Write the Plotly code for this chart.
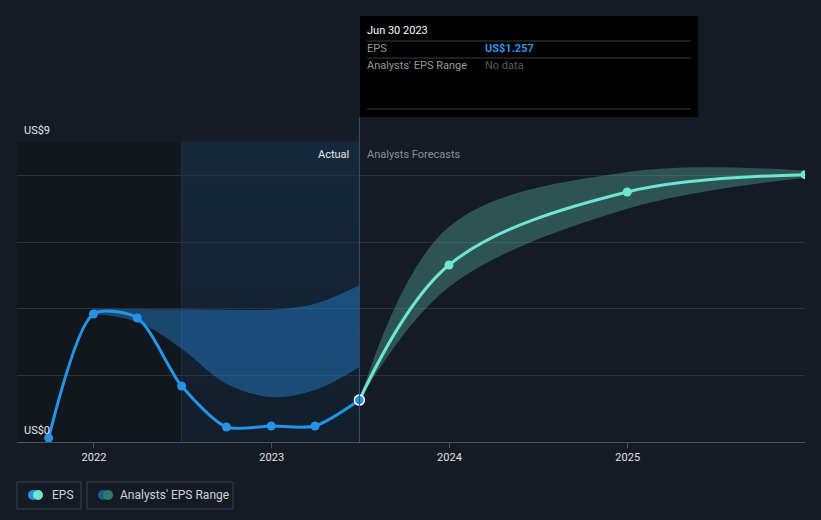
import plotly.graph_objects as go

# ---- data ----
eps_dates = ["2021-09-30", "2021-12-31", "2022-03-31", "2022-06-30",
             "2022-09-30", "2022-12-31", "2023-03-31", "2023-06-30"]
eps_values = [0.12, 3.84, 3.72, 1.68, 0.45, 0.48, 0.48, 1.257]

hist_range_dates = ["2021-12-31", "2022-03-31", "2022-06-30", "2022-09-30",
                    "2022-12-31", "2023-03-31", "2023-06-30"]
hist_range_low = [3.84, 3.6, 2.8, 1.75, 1.35, 1.56, 2.25]
hist_range_high = [4.0, 3.99, 3.98, 3.97, 3.97, 4.15, 4.7]

fc_dates = ["2023-06-30", "2023-12-31", "2024-12-31", "2025-12-31"]
fc_values = [1.257, 5.31, 7.5, 8.02]
fc_low = [1.257, 4.65, 7.0, 7.93]
fc_high = [1.257, 6.46, 8.1, 8.14]

x_ticks = ["2022-01-01", "2023-01-01", "2024-01-01", "2025-01-01"]
x_tick_labels = ["2022", "2023", "2024", "2025"]
y_grid = [0, 2, 4, 6, 8, 9]

# ---- layout helpers (pixel -> paper) ----
W, H = 821, 520
L, R, T, B = 17, 16, 142, 78
PW, PH = W - L - R, H - T - B


def px(x):
    return (x - L) / PW


def py(y):
    return (H - B - y) / PH


BG = "#151b24"
EPS_BLUE = "#2394e8"
FC_TEAL = "#6ee6d2"

fig = go.Figure()

# historic analyst range band
fig.add_trace(go.Scatter(x=hist_range_dates, y=hist_range_high, mode="lines",
                         line=dict(width=0, shape="spline", smoothing=1),
                         hoverinfo="skip", showlegend=False))
fig.add_trace(go.Scatter(x=hist_range_dates, y=hist_range_low, mode="lines",
                         line=dict(width=0, shape="spline", smoothing=1),
                         fill="tonexty", fillcolor="rgba(36,130,210,0.45)",
                         hoverinfo="skip", showlegend=False))

# forecast range band
fig.add_trace(go.Scatter(x=fc_dates, y=fc_high, mode="lines",
                         line=dict(width=0, shape="spline", smoothing=1),
                         hoverinfo="skip", showlegend=False))
fig.add_trace(go.Scatter(x=fc_dates, y=fc_low, mode="lines",
                         line=dict(width=0, shape="spline", smoothing=1),
                         fill="tonexty", fillcolor="rgba(95,200,180,0.33)",
                         hoverinfo="skip", showlegend=False))

# EPS actual
fig.add_trace(go.Scatter(x=eps_dates, y=eps_values, mode="lines+markers",
                         line=dict(color=EPS_BLUE, width=3, shape="spline", smoothing=0.75),
                         marker=dict(size=9, color=EPS_BLUE),
                         hoverinfo="skip", showlegend=False))

# forecast line
fig.add_trace(go.Scatter(x=fc_dates, y=fc_values, mode="lines+markers",
                         line=dict(color=FC_TEAL, width=3, shape="spline", smoothing=1),
                         marker=dict(size=9, color=FC_TEAL),
                         hoverinfo="skip", showlegend=False))

# highlighted last point
fig.add_trace(go.Scatter(x=[eps_dates[-1]], y=[eps_values[-1]], mode="markers",
                         marker=dict(size=10, color=EPS_BLUE, line=dict(color="white", width=1.5)),
                         hoverinfo="skip", showlegend=False))

shapes = []
# background regions
shapes.append(dict(type="rect", xref="x", yref="paper", x0="2021-07-20", x1="2022-06-30",
                   y0=0, y1=1, fillcolor="#12161d", line_width=0, layer="below"))
# vertical gradient for the highlighted "actual" year
top_rgb, bot_rgb = (21, 41, 61), (18, 30, 43)
N = 16
for i in range(N):
    f = i / (N - 1)
    c = tuple(round(bot_rgb[k] + (top_rgb[k] - bot_rgb[k]) * f) for k in range(3))
    shapes.append(dict(type="rect", xref="x", yref="paper", x0="2022-06-30", x1="2023-06-30",
                       y0=i / N, y1=(i + 1) / N + 0.002, fillcolor="rgb(%d,%d,%d)" % c,
                       line_width=0, layer="below"))
shapes.append(dict(type="line", xref="x", yref="paper", x0="2022-06-30", x1="2022-06-30",
                   y0=0, y1=1, line=dict(color="#223245", width=1), layer="below"))
shapes.append(dict(type="line", xref="x", yref="paper", x0="2023-06-30", x1="2023-06-30",
                   y0=0, y1=py(117), line=dict(color="#37506a", width=1)))

# tooltip
shapes.append(dict(type="rect", xref="paper", yref="paper", x0=px(360), x1=px(698),
                   y0=py(117), y1=py(16), fillcolor="#000000", line_width=0))
for yy in (41, 58, 109):
    shapes.append(dict(type="line", xref="paper", yref="paper", x0=px(367), x1=px(691),
                       y0=py(yy), y1=py(yy), line=dict(color="#3d3d3d", width=1)))

# legend boxes
shapes.append(dict(type="rect", xref="paper", yref="paper", x0=px(17), x1=px(81),
                   y0=py(509), y1=py(482), line=dict(color="#3a414b", width=1)))
shapes.append(dict(type="rect", xref="paper", yref="paper", x0=px(87), x1=px(233),
                   y0=py(509), y1=py(482), line=dict(color="#3a414b", width=1)))


def dot(cx, cy, r, color):
    return dict(type="circle", xref="paper", yref="paper",
                x0=px(cx - r), x1=px(cx + r), y0=py(cy + r), y1=py(cy - r),
                fillcolor=color, line_width=0)


shapes += [dot(33, 495, 5, EPS_BLUE), dot(38, 495, 5, FC_TEAL),
           dot(103, 495, 5, "#1e5a8c"), dot(108, 495, 5, "#2e7a72")]

ann = []


def text(x, y, s, color, size=11, anchor="left", bold=False):
    ann.append(dict(xref="paper", yref="paper", x=px(x), y=py(y), text=("<b>%s</b>" % s) if bold else s,
                    showarrow=False, xanchor=anchor, yanchor="middle",
                    font=dict(color=color, size=size)))


text(22, 130, "US$9", "#e6e6e6", 11)
text(22, 430, "US$0", "#e6e6e6", 11)
text(351, 154, "Actual", "#e6e6e6", 11, anchor="right")
text(365, 154, "Analysts Forecasts", "#8a9099", 11)
text(365, 31, "Jun 30 2023", "#ffffff", 11)
text(365, 49, "EPS", "#9a9a9a", 11)
text(483, 49, "US$1.257", "#2a95e6", 11, bold=True)
text(365, 66, "Analysts' EPS Range", "#9a9a9a", 11)
text(483, 66, "No data", "#5d5d5d", 11)
text(50, 495, "EPS", "#cfd3d8", 12)
text(118, 495, "Analysts' EPS Range", "#cfd3d8", 12)

fig.update_layout(
    width=W, height=H,
    margin=dict(l=L, r=R, t=T, b=B),
    paper_bgcolor=BG, plot_bgcolor=BG,
    font=dict(family="Roboto, sans-serif", color="#cfd3d8"),
    hovermode=False,
    shapes=shapes, annotations=ann,
    xaxis=dict(type="date", range=["2021-07-27", "2025-12-31"],
               tickvals=x_ticks, ticktext=x_tick_labels,
               showgrid=False, zeroline=False,
               showline=True, linecolor="#4a5260", linewidth=1,
               ticks="outside", ticklen=5, tickcolor="#4a5260",
               tickfont=dict(size=11, color="#e0e0e0")),
    yaxis=dict(range=[0, 9], tickvals=y_grid, showticklabels=False,
               showgrid=True, gridcolor="#2b323c", gridwidth=1,
               zeroline=False, fixedrange=True),
)

fig.write_html("out.html", config={"displayModeBar": False},
               post_script="document.body.style.margin='0';document.body.style.background='%s';" % BG)
